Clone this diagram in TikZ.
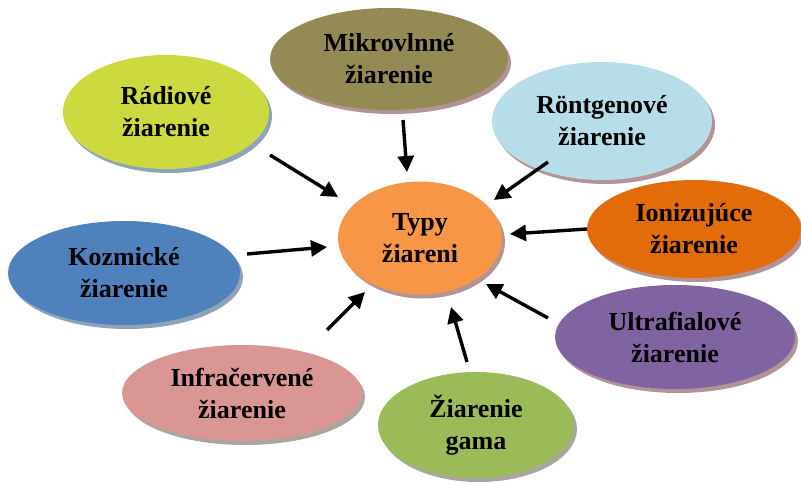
\documentclass[tikz,border=0pt]{standalone}
\usepackage{fontspec}
\setmainfont{Liberation Serif}
\usetikzlibrary{shapes.geometric,shadows,arrows.meta}
\definecolor{cMik}{HTML}{948A54}
\definecolor{cRad}{HTML}{CDDA3F}
\definecolor{cRon}{HTML}{B7DDE8}
\definecolor{cIon}{HTML}{E36C0A}
\definecolor{cTyp}{HTML}{F79646}
\definecolor{cKoz}{HTML}{4F81BD}
\definecolor{cUlt}{HTML}{8064A2}
\definecolor{cInf}{HTML}{D99694}
\definecolor{cGam}{HTML}{9BBB59}
\definecolor{shMauve}{HTML}{B39496}
\definecolor{shBlue}{HTML}{8FA3B8}
\definecolor{shGray}{HTML}{A9A6A0}
\tikzset{
  bub/.style={ellipse, draw=none, fill=#1, inner sep=0pt, align=center,
    font=\fontsize{26}{32}\selectfont\bfseries, text=black},
  shad/.style={drop shadow={shadow xshift=3pt, shadow yshift=-4pt, fill=#1, opacity=1}},
  arr/.style={line width=3.4pt, -{Triangle[length=16pt,width=16pt]}}
}
\begin{document}
\begin{tikzpicture}[x=1pt,y=-1pt]
\useasboundingbox (0,0) rectangle (801,484);
\node[bub=cMik, shad=shMauve, minimum width=238pt, minimum height=102pt] (mik) at (389,59) {Mikrovlnné\\žiarenie};
\node[bub=cRad, shad=shBlue, minimum width=206pt, minimum height=114pt] (rad) at (166,112) {Rádiové\\žiarenie};
\node[bub=cRon, shad=shMauve, minimum width=220pt, minimum height=118pt] (ron) at (602,121) {Röntgenové\\žiarenie};
\node[bub=cIon, shad=shMauve, minimum width=214pt, minimum height=98pt] (ion) at (694,229) {Ionizujúce\\žiarenie};
\node[bub=cTyp, shad=shMauve, minimum width=164pt, minimum height=113pt] (typ) at (420,238) {Typy\\žiareni};
\node[bub=cKoz, shad=shBlue, minimum width=232pt, minimum height=104pt] (koz) at (124,273) {Kozmické\\žiarenie};
\node[bub=cUlt, shad=shMauve, minimum width=240pt, minimum height=104pt] (ult) at (675,337) {Ultrafialové\\žiarenie};
\node[bub=cInf, shad=shGray, minimum width=240pt, minimum height=96pt] (inf) at (242,393) {Infračervené\\žiarenie};
\node[bub=cGam, shad=shGray, minimum width=196pt, minimum height=106pt] (gam) at (476,425) {Žiarenie\\gama};
% arrow end points
\coordinate (radS) at (270,155);  \coordinate (radE) at (338,197);
\coordinate (mikS) at (403,120);  \coordinate (mikE) at (407,172);
\coordinate (ronS) at (548,162);  \coordinate (ronE) at (494,200);
\coordinate (ionS) at (587,229);  \coordinate (ionE) at (510,234);
\coordinate (kozS) at (247,254);  \coordinate (kozE) at (327,247);
\coordinate (ultS) at (548,318);  \coordinate (ultE) at (486,284);
\coordinate (gamS) at (467,362);  \coordinate (gamE) at (451,307);
\coordinate (infS) at (327,330);  \coordinate (infE) at (365,292);
\draw[arr] (radS) -- (radE);
\draw[arr] (mikS) -- (mikE);
\draw[arr] (ronS) -- (ronE);
\draw[arr] (ionS) -- (ionE);
\draw[arr] (kozS) -- (kozE);
\draw[arr] (ultS) -- (ultE);
\draw[arr] (gamS) -- (gamE);
\draw[arr] (infS) -- (infE);
\end{tikzpicture}
\end{document}
